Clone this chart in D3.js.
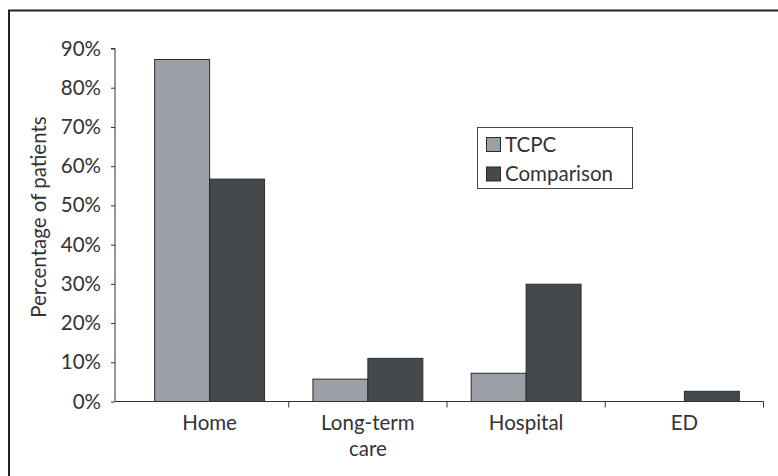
<!DOCTYPE html>
<html>
<head>
<meta charset="utf-8">
<script src="https://cdn.jsdelivr.net/npm/d3@7"></script>
<style>
  html, body { margin: 0; padding: 0; background: #fff; }
  svg { display: block; }
  text { font-family: Lato, "Open Sans", sans-serif; fill: #333; }
</style>
</head>
<body>
<div id="chart"></div>
<script>
// Discharge destination by group
const categories = ["Home", "Long-term care", "Hospital", "ED"];
const categoryLines = [["Home"], ["Long-term", "care"], ["Hospital"], ["ED"]];
const seriesNames = ["TCPC", "Comparison"];
const tcpcValues = [87.2, 5.7, 7.2, 0];
const comparisonValues = [56.7, 11.0, 29.9, 2.6];
const yTicks = [0, 10, 20, 30, 40, 50, 60, 70, 80, 90];
const colors = ["#9aa0a6", "#43494c"];

const W = 778, H = 476;
const FS = 20.5;
const svg = d3.select("#chart").append("svg").attr("width", W).attr("height", H);

// outer frame (top and left edges)
svg.append("path")
  .attr("d", "M9,476 V10.5 H778")
  .attr("fill", "none").attr("stroke", "#222").attr("stroke-width", 2);

const axisX = 115, plotLeft = 130.5, plotRight = 763.5;
const y = d3.scaleLinear().domain([0, 90]).range([401.5, 48.5]);
const x = d3.scaleBand().domain(categories).range([plotLeft, plotRight]).paddingInner(0).paddingOuter(0);
const xs = d3.scaleBand().domain(seriesNames).range([0, x.bandwidth()]).paddingInner(0).paddingOuter(0.44);

const data = categories.map((c, i) => ({ cat: c, vals: [tcpcValues[i], comparisonValues[i]] }));

// bars
const groups = svg.append("g").selectAll("g").data(data).join("g")
  .attr("transform", d => `translate(${x(d.cat)},0)`);
groups.selectAll("rect")
  .data(d => d.vals.map((v, j) => ({ s: seriesNames[j], v, j })).filter(e => e.v > 0))
  .join("rect")
  .attr("x", e => xs(e.s))
  .attr("y", e => y(e.v))
  .attr("width", xs.bandwidth())
  .attr("height", e => y(0) - y(e.v))
  .attr("fill", e => colors[e.j])
  .attr("stroke", "#2a2a2a").attr("stroke-width", 1);

// y axis
const yAxis = d3.axisLeft(y).tickValues(yTicks).tickFormat(d => d + "%").tickSize(4).tickPadding(10);
const gy = svg.append("g").attr("transform", `translate(${axisX},0)`).call(yAxis);
gy.select(".domain").attr("stroke", "#333").attr("d", `M-4,${y(90)}H0V${y(0)}`);
gy.selectAll(".tick line").attr("stroke", "#333");
gy.selectAll(".tick text").attr("font-size", FS).attr("font-family", null).attr("fill", "#333");

// x axis baseline with ticks at category boundaries
svg.append("line").attr("x1", axisX).attr("x2", plotRight).attr("y1", y(0)).attr("y2", y(0))
  .attr("stroke", "#333");
const bounds = categories.map(c => x(c) + x.bandwidth());
svg.selectAll(".xtick").data(bounds).join("line").attr("class", "xtick")
  .attr("x1", d => d).attr("x2", d => d).attr("y1", y(0)).attr("y2", y(0) + 6)
  .attr("stroke", "#333");

// category labels
const lab = svg.selectAll(".xlab").data(categories).join("text").attr("class", "xlab")
  .attr("text-anchor", "middle").attr("font-size", FS)
  .attr("x", c => x(c) + x.bandwidth() / 2).attr("y", 430);
lab.selectAll("tspan").data((c, i) => categoryLines[i]).join("tspan")
  .attr("x", function () { return d3.select(this.parentNode).attr("x"); })
  .attr("dy", (d, k) => k === 0 ? 0 : 26)
  .text(d => d);

// y axis title
svg.append("text")
  .attr("transform", `translate(46,${(116 + 318) / 2}) rotate(-90)`)
  .attr("text-anchor", "middle").attr("font-size", FS)
  .text("Percentage of patients");

// legend
const lg = svg.append("g");
lg.append("rect").attr("x", 477.5).attr("y", 127.5).attr("width", 155).attr("height", 61)
  .attr("fill", "#fff").attr("stroke", "#444").attr("stroke-width", 1);
seriesNames.forEach((s, i) => {
  lg.append("rect").attr("x", 486.5).attr("y", 137.5 + i * 29.5).attr("width", 14).attr("height", 14)
    .attr("fill", colors[i]).attr("stroke", "#2a2a2a").attr("stroke-width", 1);
  lg.append("text").attr("x", 505).attr("y", 151.5 + i * 29.5).attr("font-size", FS).text(s);
});
</script>
</body>
</html>
